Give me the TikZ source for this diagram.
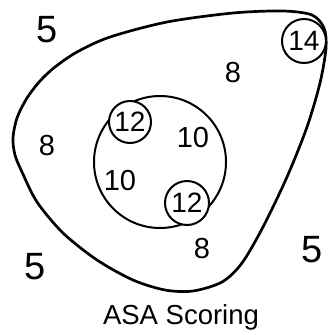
\documentclass[tikz,border=0pt]{standalone}
\usepackage{fontspec}
\setmainfont{Liberation Sans}
\begin{document}
\begin{tikzpicture}[x=1pt,y=-1pt,
  big/.style={font=\fontsize{38}{38}\selectfont},
  mid/.style={font=\fontsize{29}{29}\selectfont},
  ring/.style={circle,draw,line width=2pt,fill=white,inner sep=0pt,font=\fontsize{28}{28}\selectfont}]
\useasboundingbox (0,0) rectangle (331,335);
% outer contour
\draw[line width=2.7pt] plot[smooth cycle,tension=0.5] coordinates {
 (13,138) (17,118) (27,98) (40,81) (55,67) (77,52) (110,37) (167,22) (233,13) (283,11) (312,15) (324,28)
 (326,48) (320,83) (307,127) (287,177) (263,227) (242,263) (222,282) (193,291)
 (165,290) (133,280) (97,260) (63,233) (37,202) (22,172) (15,155)};
% inner circle
\node[circle,draw,line width=2pt,minimum size=132pt,inner sep=0pt] (inner) at (160,162) {};
\node[ring,minimum size=42pt] (c12a) at (130,122) {12};
\node[ring,minimum size=44pt] (c12b) at (187,203) {12};
\node[ring,minimum size=44pt] (c14) at (304,41) {14};
% labels
\node[big] (f1) at (47,30) {5};
\node[big] (f2) at (35,267) {5};
\node[big] (f3) at (312,250) {5};
\node[mid] (e1) at (233,73) {8};
\node[mid] (e2) at (47,146) {8};
\node[mid] (e3) at (202,249) {8};
\node[mid] (t1) at (193,138) {10};
\node[mid] (t2) at (120,181) {10};
\node[font=\fontsize{27.5}{27.5}\selectfont] (title) at (181,317) {ASA Scoring};
\end{tikzpicture}
\end{document}
